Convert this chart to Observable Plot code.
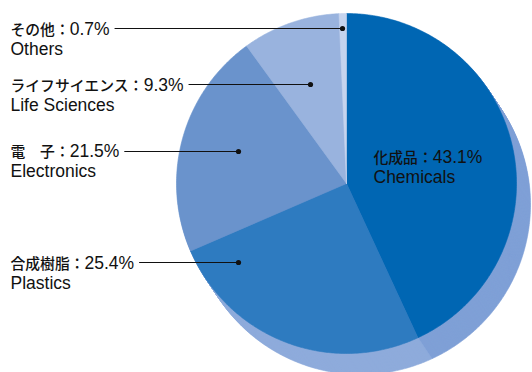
<!DOCTYPE html>
<html>
<head>
<meta charset="utf-8">
<script src="https://cdn.jsdelivr.net/npm/d3@7"></script>
<script src="https://cdn.jsdelivr.net/npm/@observablehq/plot@0.6"></script>
<style>
  html, body { margin: 0; padding: 0; background: #fff; }
  #chart svg { display: block; }
</style>
</head>
<body>
<div id="chart"></div>
<script>
// Sales composition by business segment (clockwise from 12 o'clock)
const segmentsEn = ["Chemicals", "Plastics", "Electronics", "Life Sciences", "Others"];
const segmentsJa = ["化成品", "合成樹脂", "電　子", "ライフサイエンス", "その他"];
const shares = [43.1, 25.4, 21.5, 9.3, 0.7];

// Face and side colours of each slice
const faceColors = ["#0066b3", "#2e7bc0", "#6a93cc", "#99b3de", "#c6d4ee"];
const sideColors = ["#7fa0d6", "#8eabdb", "#6d94cd", "#99b3de", "#c6d4ee"];

// Pie geometry in pixel space
const cx = 346, cy = 183, R = 170;
const depthX = 14, depthY = 21, depthSteps = 21;

// Label placement: text start, baseline of the English line, leader dot
const labelLayout = {
  "Chemicals":     {tx: 373, ty: 182},
  "Plastics":      {tx: 10,  ty: 288, dx: 238, ly: 262},
  "Electronics":   {tx: 10,  ty: 176, dx: 238, ly: 151},
  "Life Sciences": {tx: 10,  ty: 110, dx: 310, ly: 84},
  "Others":        {tx: 10,  ty: 54,  dx: 342, ly: 28}
};

const jaFont = "'Noto Sans CJK JP', sans-serif";
const latinFont = "'Liberation Sans', Arial, sans-serif";
const jaSize = 14.8, latinSize = 17.5;

// Text widths, so the value follows the Japanese name
const ctx = document.createElement("canvas").getContext("2d");
function textWidth(str, size, family, weight = 400) {
  ctx.font = `${weight} ${size}px ${family}`;
  return ctx.measureText(str).width;
}

const arcs = d3.pie().sort(null).value(d => d.share)(
  segmentsEn.map((en, i) => ({en, ja: segmentsJa[i], share: shares[i], i}))
);

// Polygon outline of a slice, optionally shifted for the extruded side
function slicePoints(a, key, color, ox = 0, oy = 0) {
  const pts = [{key, color, x: cx + ox, y: cy + oy}];
  const n = Math.max(4, Math.ceil((a.endAngle - a.startAngle) / 0.01));
  for (let j = 0; j <= n; j++) {
    const t = a.startAngle + (a.endAngle - a.startAngle) * j / n;
    pts.push({key, color, x: cx + ox + R * Math.sin(t), y: cy + oy - R * Math.cos(t)});
  }
  pts.push({key, color, x: cx + ox, y: cy + oy});
  return pts;
}

const sidePts = [];
for (let k = depthSteps; k >= 1; k--) {
  const ox = depthX * k / depthSteps, oy = depthY * k / depthSteps;
  arcs.forEach(a => sidePts.push(...slicePoints(a, `side-${k}-${a.data.i}`, sideColors[a.data.i], ox, oy)));
}
const facePts = arcs.flatMap(a => slicePoints(a, `face-${a.data.i}`, faceColors[a.data.i]));

const labels = arcs.map(a => {
  const lay = labelLayout[a.data.en];
  const ja = `${a.data.ja}：`;
  const value = `${a.data.share.toFixed(1)}%`;
  const vx = lay.tx + textWidth(ja, jaSize, jaFont, 500);
  const end = vx + textWidth(value, latinSize, latinFont);
  return {ja, value, en: a.data.en, vx, lx: end + 5, ...lay};
});
const leaders = labels.filter(d => d.dx != null);

const chart = Plot.plot({
  width: 532,
  height: 372,
  margin: 0,
  x: {domain: [0, 532], range: [0, 532], axis: null},
  y: {domain: [0, 372], range: [0, 372], axis: null},
  color: {type: "identity"},
  marks: [
    Plot.line(sidePts, {x: "x", y: "y", z: "key", fill: "color", stroke: "color", strokeWidth: 0.6, curve: "linear"}),
    Plot.line(facePts, {x: "x", y: "y", z: "key", fill: "color", stroke: "color", strokeWidth: 0.6, curve: "linear"}),
    Plot.link(leaders, {x1: "lx", x2: "dx", y1: "ly", y2: "ly", stroke: "#111", strokeWidth: 1}),
    Plot.dot(leaders, {x: "dx", y: "ly", r: 2.6, fill: "#111", stroke: "none"}),
    Plot.text(labels, {
      x: "tx", y: d => d.ty - 20, text: "ja",
      textAnchor: "start", lineAnchor: "bottom",
      fontSize: jaSize, fontWeight: 500, fill: "#111", fontFamily: jaFont
    }),
    Plot.text(labels, {
      x: "vx", y: d => d.ty - 20, text: "value",
      textAnchor: "start", lineAnchor: "bottom",
      fontSize: latinSize, fill: "#111", fontFamily: latinFont
    }),
    Plot.text(labels, {
      x: "tx", y: "ty", text: "en",
      textAnchor: "start", lineAnchor: "bottom",
      fontSize: latinSize, fill: "#111", fontFamily: latinFont
    })
  ]
});

document.getElementById("chart").append(chart);
</script>
</body>
</html>
